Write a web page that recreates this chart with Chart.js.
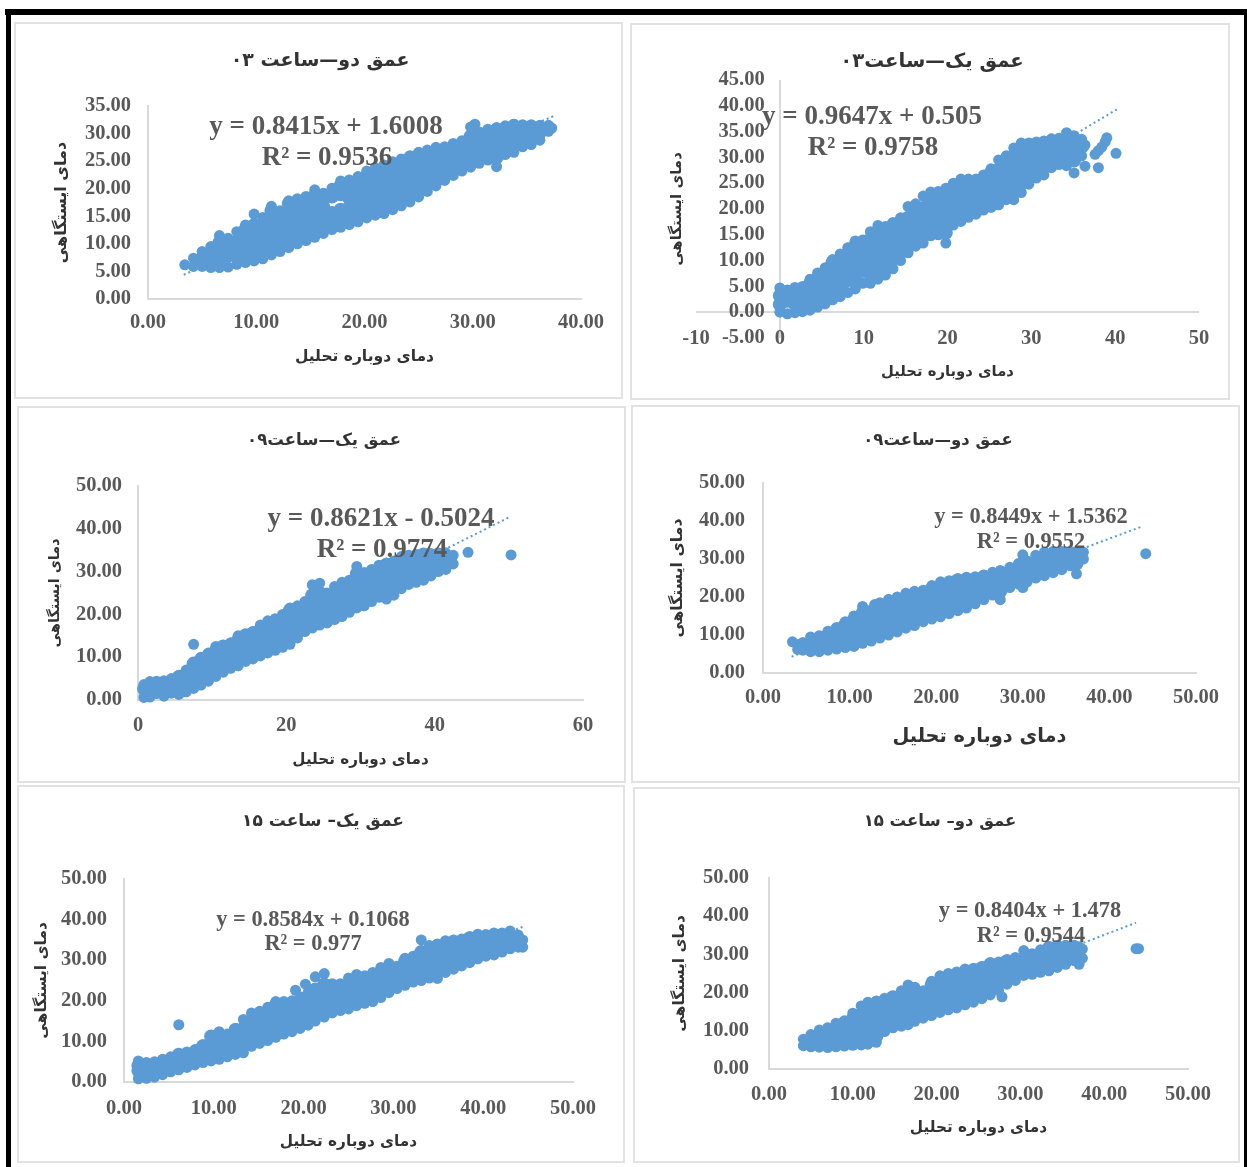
<!DOCTYPE html>
<html>
<head>
    <meta charset="utf-8">
    <title>دمای ایستگاهی و دوباره تحلیل</title>
    <script src="https://cdn.jsdelivr.net/npm/chart.js"></script>
    <style>
        body { margin: 0; background: #fff; }
        canvas { position: absolute; outline: 2px solid #e2e2e2; outline-offset: -1px; }
        .bar { position: absolute; background: #000; }
    </style>
</head>
<body>
    <div class="bar" style="left:5px;top:9px;width:1242px;height:6px"></div>
    <div class="bar" style="left:6px;top:9px;width:5px;height:1158px"></div>
    <div class="bar" style="left:1244px;top:9px;width:3px;height:1158px"></div>

    <canvas id="c1"></canvas>
    <canvas id="c2"></canvas>
    <canvas id="c3"></canvas>
    <canvas id="c4"></canvas>
    <canvas id="c5"></canvas>
    <canvas id="c6"></canvas>

    <script>
        const xName = 'دمای دوباره تحلیل';
        const yName = 'دمای ایستگاهی';

        // every column is [x, [y, y, ...]]
        const depth2Hour03 = [
            [3.4,[6.2]],[4.2,[5.9,7.4]],[5,[5.9,7.2,8.6]],[5.8,[5.7,7,8.3,9.5]],[6.6,[5.7,7.2,8.7,10.2,11.5]],
            [7.4,[5.8,7.9,9.3,11]],[8.2,[6.3,7.6,9,10.4,12.2]],[9,[6.6,8.1,9.6,11.1,12.6,13.4]],
            [9.8,[6.9,8.6,10.2,11.8,13.4,15.4]],[10.6,[7.3,8.8,10.3,11.8,13.3,14.8]],[11.4,[8,9.6,11.2,12.8,14.4,16,16.8]],
            [12.2,[8.6,10.1,11.6,13.1,14.6,16]],[13,[9.3,10.9,12.5,14.1,15.7,17.3,17.8]],[13.8,[10,11.5,13,14.5,16,17.5,18.2]],
            [14.6,[10.6,12.3,13.9,15.5,17.1,18.6]],[15.4,[11.2,12.7,14.2,15.7,17.2,18.7,19.8]],[16.2,[11.9,13.5,15.1,16.7,18.3,19.2]],
            [17,[12.6,14.1,15.6,18.6,20.1]],[17.8,[13,14.6,16.2,19,20.6,21.4]],[18.6,[13.5,15,16.4,18.2,19.8,21.6]],
            [19.4,[14,15.6,17.2,18.8,20.4,22.2]],[20.2,[14.7,16.2,17.7,19.2,20.7,22.2,23.2]],[21,[15.2,16.8,18.4,20,21.6,23.2,23.8]],
            [21.8,[15.5,17,18.5,20,21.5,23,24.3]],[22.6,[16.2,17.8,19.4,21,22.6,24.2,24.9]],[23.4,[16.9,18.4,19.9,21.4,22.9,24.4,25.4]],
            [24.2,[17.6,19.2,20.8,22.4,24,25.6,26]],[25,[18.5,20,21.5,23,24.5,26,26.6]],[25.8,[19.5,21.1,22.7,24.3,25.9,27]],
            [26.6,[20.5,22,23.5,25,26.5,27.5]],[27.4,[21.5,23.1,24.7,26.3,27.6]],[28.2,[22.4,23.9,25.4,26.9,28.2]],
            [29,[23.2,24.8,26.4,28,28.7]],[29.8,[23.9,25.4,26.9,28.4,29.5,31.2]],[30.2,[31.7]],[30.6,[24.6,26.2,27.8,29.4,30.3]],
            [31.4,[25.2,26.7,28.2,29.7,30.8]],[32.2,[24,25.7,27.3,28.9,30.5,31.1]],[33,[26.2,27.7,29.2,30.7,31.4]],
            [33.8,[26.6,28.2,29.8,31.4,31.6]],[34.6,[27.6,29,30.4,31.6]],[35.4,[28,29.6,31.2,31.6]],[36.2,[28.8,30.2,31.5]],
            [37,[30.4,31.5]],[37.3,[31]]
        ];
        const depth1Hour03 = [
            [0,[0,1.5,3.2,4.7]],[0.9,[-0.3,2.2,3.9,4.3]],[1.8,[-0.1,1.6,3.3,4.8]],[2.7,[0.1,2,3.8,5]],[3.6,[0.4,2.1,3.8,5.5,6.4]],
            [4.5,[1,3,4.7,6.4,7.6]],[5.4,[1.6,3.3,5,6.7,8.6]],[6.3,[2.4,4.6,6.3,8,9.7,10.2]],[7.2,[3,4.7,6.4,8.1,9.8,11.3]],
            [8.1,[3.8,6.2,7.9,9.6,11.3,12.5]],[9,[4.5,6.2,7.9,9.6,11.3,13,13.8]],[9.9,[5.6,8,9.7,11.4,13.1,14]],
            [10.8,[5.6,7.3,9,10.7,12.4,14.1,15.6]],[11.7,[6.4,8.2,9.9,11.6,13.3,15,16.8]],[12.6,[7.2,8.9,10.6,12.3,14,15.7,16.6]],
            [13.5,[8.4,10.1,11.8,13.5,15.2,16.9,17.4]],[14.4,[10,11.7,13.4,15.1,16.8,18.3]],[15.3,[11.5,13.2,14.9,16.6,18.3,20.5]],
            [16.2,[12.8,14.5,16.2,17.9,19.6,21]],[17.1,[13.4,15.1,16.8,18.5,20.2,22.5]],[18,[14.8,16.5,18.2,19.9,21.6,23.3]],
            [18.9,[15,16.7,18.4,20.1,21.8,23.4]],[19.8,[13.4,15.4,17.3,19,20.7,22.4,24]],[20.7,[16.9,18.6,20.3,22,23.7,25]],
            [21.6,[17.6,19.3,21,22.7,24.4,25.8]],[22.5,[18.4,20.1,21.8,23.5,25.2,25.8]],[23.4,[19,20.7,22.4,24.1,25.8]],
            [24.3,[19.8,21.5,23.2,24.9,26.6]],[25.2,[20.3,22,23.7,25.4,27.1,27.8]],[26.1,[20.8,22.5,24.2,25.9,27.6,29.5]],
            [27,[21.8,23.5,25.2,26.9,28.6,30.3]],[27.9,[21.8,23.5,25.2,26.9,28.6,30.3,31.8]],[28.8,[23.2,24.9,26.6,28.3,30,31.7,32.8]],
            [29.7,[24.8,26.5,28.2,29.9,31.6,32.8]],[30.6,[26,27.7,29.4,31.1,33]],[31.5,[26.6,28.3,30,31.7,33.2]],
            [32.4,[28,29.7,31.4,33.1,33.6]],[33.3,[28.6,30.3,32,33.7]],[34.2,[28.4,30,31.7,33.4,34.8]],[35.1,[27,29.4,31,32.7,34.2]],
            [36,[30.3,32,33.5]],[36.4,[28.3,32.4]],[37.6,[30.6]],[38,[28,31.3]],[38.4,[32]],[38.8,[33]],[39,[33.8]],[40.1,[30.8]]
        ];
        const depth1Hour09 = [
            [0.8,[0.6,2.6,3.6]],[1.6,[0.7,2.7,4.3]],[2.5,[1.5,3.4,4.4]],[3.5,[0.9,2.8,4.5]],[4.5,[1.6,3.6,5]],[5.5,[1.3,3.3,5.3,5.8]],
            [6.5,[1.9,4,6,7]],[7.5,[2.7,4.7,6.7,8.5,13]],[8.5,[3.5,5.5,7.5,9.5,10]],[9.5,[4.4,6.4,8.4,10.4,11]],
            [10.5,[5.5,7.5,9.5,11.5,12.5]],[11.5,[6.5,8.5,10.5,12.5,12.8]],[12.5,[7.4,9.4,11.4,13.4]],[13.5,[8,10,12,14,15]],
            [14.5,[9,11,13,15,15.5]],[15.5,[9.6,11.6,13.6,15.6,16]],[16.5,[10.3,12.3,14.3,16.3,17.5]],[17.5,[11,13,15,17,18.5]],
            [18.5,[11.6,13.6,15.6,17.6,19]],[19.5,[12.3,14.3,16.3,18.3,20]],[20.5,[13,15,17,19,21,21.5]],[21.5,[14.5,16.5,18.5,20.5,22]],
            [22.5,[16,18,20,22,23]],[23.5,[16.8,18.8,20.8,22.8,24.5,26.9]],[24.5,[17.5,19.5,21.5,23.5,25,27.3]],[25.5,[18,20,22,24,25]],
            [26.5,[18.8,20.8,22.8,24.8,26.5]],[27.5,[19.5,21.5,23.5,25.5,27.5]],[28.5,[20.5,22.5,24.5,26.5,28]],[29.5,[21.5,23.5,25.5,27.5,29.5,31.2]],
            [30.5,[22,24,26,28,29.8]],[31.5,[23,25,27,29,30.5]],[32.5,[24,26,28,30,31.5]],[33.5,[23.6,25.6,27.6,29.6,31.6,32]],
            [34.5,[24.5,26.5,28.5,30.5,32.5]],[35.5,[26,28,30,32,33.5]],[36.5,[27,29,31,33,33.8]],[37.5,[27.5,29.5,31.5,33.5,34]],
            [38.5,[28,30,32,34,34.2]],[39.5,[29,31,33,34.2]],[40.5,[30,32,34,34.3]],[41.5,[30.5,32.5,34.4]],[42.5,[31.8,33.8]],
            [44.5,[34.5]],[50.3,[33.9]]
        ];
        const depth2Hour09 = [
            [3.4,[8.2]],[4,[6.2,7.5]],[4.6,[6,8]],[5.5,[5.6,7.6,9.5]],[6.5,[5.6,6.6,8.6,9.8]],[7.5,[6,8,10,11]],[8.5,[6.3,7.3,9.3,11.3,12]],
            [9.5,[6.7,8.7,10.7,12.7,13.5]],[10.5,[7,8,10,12,14,15]],[11.5,[7.8,9.8,11.8,13.8,15.8,17.5]],[12.5,[8.4,9.4,11.4,13.4,15.4,16.6]],
            [12.9,[18]],[13.5,[9.2,11.2,13.2,15.2,17.2,18.5]],[14.5,[10,12,14,16,18,19.4]],[15.5,[10.8,12.8,14.8,16.8,18.8,20]],
            [16.5,[11.8,13.8,15.8,17.8,19.8,21]],[17.5,[12.5,14.5,16.5,18.5,20.5,21.5]],[18.5,[13.5,15.5,17.5,19.5,21.8]],
            [19.5,[14.2,16.2,18.2,20.2,22.2,23]],[20.5,[14.8,16.8,18.8,20.8,22.8,24]],[21.5,[15.6,17.6,19.6,21.6,23.6,24.3]],
            [22.5,[16.4,18.4,20.4,22.4,24.4,24.8]],[23.5,[17.1,19.1,21.1,23.1,25.2]],[24.5,[18.2,20.2,22.2,24.2,25.3]],
            [25.5,[19.3,21.3,23.3,25.3,25.8]],[26.5,[20.5,22.5,24.5,26.5]],[27.4,[19.3,21.5,23.5,25.5,27]],[28.5,[22.5,24.5,26.5,27.8]],
            [29.5,[23.4,25.4,27.4,28.8]],[30,[22.5,31.1]],[30.5,[24,26,28,29.5]],[31.5,[25,27,29,31]],[32.5,[25.6,27.6,29.6,31.8]],
            [33.5,[26.4,28.4,30.4,32]],[34.5,[27.2,29.2,31.2,32]],[35.5,[28.2,30.2,32]],[36.2,[26.1,28.8,30.8,32]],[37,[30,31.8]],[44.2,[31.4]]
        ];
        const depth1Hour15 = [
            [1.6,[0.8,2.8,4,5.2]],[2.5,[0.9,2.9,4.8]],[3.4,[1.2,3.2,5]],[4.3,[1.8,3.8,5.6]],[5.2,[2.5,4.5,6.2]],[6.1,[3,5,6.7,14.1]],
            [7,[3.6,5.6,7.4]],[7.9,[4.2,6.2,8]],[8.8,[4.8,6.8,8.8,9.2]],[9.7,[5.2,7.2,9.2,11.2,11.5]],[10.6,[5.6,7.6,9.6,11.6,12.4]],
            [11.5,[6.2,8.2,10.2,11.8]],[12.4,[6.8,8.8,10.8,12.8,13.2]],[13.3,[7.2,9.2,11.2,13.2,15.4]],[14.2,[8.8,10.8,12.8,14.8,17]],
            [15.1,[9.5,11.5,13.5,15.5,17.4]],[16,[10.2,12.2,14.2,16.2,18.4]],[16.9,[11,13,15,17,19,19.8]],[17.8,[11.8,13.8,15.8,17.8,19.8]],
            [18.7,[12.4,14.4,16.4,18.4,20]],[19.1,[22.6]],[19.6,[13.2,15.2,17.2,19.2,21]],[20.2,[24.1]],[20.5,[14,16,18,20,22]],
            [21.3,[15,17,19,21,22.8,25.9]],[22.3,[16,18,20,22,24,26.7]],[23.2,[17,19,21,23,24.2]],[24.1,[17.6,19.6,21.6,23.6,24.2]],
            [25,[18,20,22,24,25.6]],[25.9,[18.8,20.8,22.8,24.8,26.5]],[26.8,[19.4,21.4,23.4,25.4,26.2]],[27.7,[19.8,21.8,23.8,25.8,27]],
            [28.6,[20.8,22.8,24.8,26.8,28.2]],[29.5,[22,24,26,28,29.2]],[30.4,[23,25,27,28.5]],[31.3,[23.8,25.8,27.8,29.8,30.5]],
            [32.2,[24.6,26.6,28.6,31]],[33.1,[25,27,29,31,32,35]],[34,[25.6,27.6,29.6,31.6,33.6]],[34.9,[25.5,27.5,29.5,31.5,33.5,34]],
            [35.8,[27,29,31,33,34.8]],[36.7,[27.8,29.8,31.8,33.8,35]],[37.6,[28.6,30.6,32.6,34.6,35.2]],[38.5,[29.4,31.4,33.4,35.4,35.8]],
            [39.4,[30.3,32.3,34.3,36.4]],[40.3,[31,33,35,36.3]],[41.2,[31.3,33.3,35.3,36.7]],[42.1,[32,34,36,36.7]],[43,[32.8,34.8,37.2]],
            [43.9,[33.2,35.2,36.2]],[44.4,[33.2,35]]
        ];
        const depth2Hour15 = [
            [4.1,[6.1,7.8]],[5,[5.8,7.8,9]],[6,[5.7,6.7,8.7,10.2]],[7,[5.6,7.6,9.6,10.8]],[8,[5.8,6.8,8.8,10.8,12]],[9,[6,8,10,12,12.6]],
            [10,[6.2,7.2,9.2,11.2,13.2,14.6]],[11,[6.3,8.3,10.3,12.3,14.3,16.5]],[11.8,[6.5,7.5,9.5,11.5,13.5,15.5,17.5]],
            [12.8,[7,8.5,10.5,12.5,14.5,16.5,17.8]],[13.8,[9.8,11.8,13.8,15.8,17.8,18.5]],[14.8,[10.8,12.8,14.8,16.8,18.8,19]],
            [15.8,[11.2,13.2,15.2,17.2,19.2,20.5]],[16.6,[11.6,13.6,15.6,17.6,19.6,22]],[17.4,[12.5,14.5,16.5,18.5,20.5,21.4]],
            [18.4,[13.3,15.3,17.3,19.3,20.5]],[19.4,[14,16,18,20,22,23]],[20.4,[14.8,16.8,18.8,20.8,22.8,24.4]],[21.4,[15.5,17.5,19.5,21.5,23.5,25]],
            [22.4,[16,18,20,22,24,25.4]],[23.4,[16.8,18.8,20.8,22.8,24.8,26.2]],[24.4,[17.5,19.5,21.5,23.5,25.5,26.4]],[25.4,[18.4,20.4,22.4,24.4,26.4,26.8]],
            [26.4,[19.4,21.4,23.4,25.4,27.4,27.8]],[27.4,[20.6,22.6,24.6,26.6,28]],[27.8,[18.9]],[28.4,[22.2,24.2,26.2,28.2,28.6]],[29.4,[23.2,25.2,27.2,29.2]],
            [30.4,[24.5,26.5,28.5,31]],[31.4,[24.8,26.8,28.8,30.2]],[32.4,[25.3,27.3,29.3,31.2]],[33.4,[25.7,27.7,29.7,31.7,32]],
            [34.4,[26.6,28.6,30.6,32.4]],[35.4,[27.4,29.4,31.4,32.4]],[36.4,[28.4,30.4,32.4]],[37,[27.4,32]],[37.4,[29,31.4]],[43.8,[31.5]],[44.1,[31.5]]
        ];

        const trend1X = [3.3, 37.5], trend1Y = [4.4, 33.2];
        const trend2X = [0, 40.3], trend2Y = [0.5, 39.4];
        const trend3X = [0.8, 50.3], trend3Y = [0.2, 42.9];
        const trend4X = [3.3, 43.7], trend4Y = [4.3, 38.5];
        const trend5X = [1.6, 44.4], trend5Y = [1.5, 38.2];
        const trend6X = [4.1, 43.8], trend6Y = [4.9, 38.3];

        const blue = '#5B9BD5';
        const grey = '#595959';
        const dark = '#333333';
        const serif = "'Liberation Serif', serif";
        const arabic = "'DejaVu Sans', sans-serif";

        // draws the trendline equation over the points
        const equationPlugin = {
            id: 'equation',
            afterDatasetsDraw(chart, args, opts) {
                const ctx = chart.ctx;
                ctx.save();
                ctx.fillStyle = grey;
                ctx.textAlign = 'center';
                ctx.textBaseline = 'middle';
                ctx.font = 'bold ' + opts.size + 'px ' + serif;
                opts.lines.forEach(l => ctx.fillText(l[0], l[1] - opts.left, l[2] - opts.top + 2));
                ctx.restore();
            }
        };

        function drawPanel(p) {
            const canvas = document.getElementById(p.id);
            const w = p.box[2], h = p.box[3];
            canvas.width = w;
            canvas.height = h;
            canvas.style.left = p.box[0] + 'px';
            canvas.style.top = p.box[1] + 'px';

            // left padding only nudges the title, the right side is held by an empty axis
            const rightGap = p.box[0] + w - p.plot[1];
            const padLeft = 2 * (p.titleX - (p.box[0] + w / 2));
            const yWidth = p.plot[0] - p.box[0] - padLeft;
            const xHeight = p.box[1] + h - p.plot[3];
            const titleLine = p.titleSize * 1.2;
            const titleTop = p.titleY - p.box[1] - titleLine / 2;
            const titleBottom = p.plot[2] - p.box[1] - titleLine - titleTop;

            const xTitle = {
                display: true, text: xName, color: dark,
                font: { family: arabic, weight: 'bold', size: p.xNameSize },
                padding: { top: 0, bottom: p.box[1] + h - p.xNameY - p.xNameSize * 0.6 }
            };
            const yTitle = {
                display: true, text: yName, color: dark,
                font: { family: arabic, weight: 'bold', size: p.yNameSize },
                padding: { top: p.yNameX - p.box[0] - padLeft - p.yNameSize * 0.6, bottom: 0 }
            };
            const tickFont = { family: serif, weight: 'bold', size: 20.5 };
            const axisLine = { display: true, color: '#d9d9d9', width: 2 };
            const noGrid = { display: false, drawTicks: false };
            const emptyAxis = {
                type: 'linear', min: 0, max: 1,
                grid: noGrid, border: { display: false }, ticks: { display: false }
            };
            const scales = {
                x: {
                    type: 'linear', min: p.xTicks[0], max: p.xTicks[1],
                    grid: noGrid, border: axisLine,
                    afterFit: a => { a.height = xHeight; },
                    ticks: {
                        stepSize: p.xTicks[2], padding: p.xPad, color: grey, font: tickFont, maxRotation: 0, autoSkip: false,
                        callback: v => v.toFixed(p.xDigits)
                    },
                    title: xTitle
                },
                y: {
                    type: 'linear', min: p.yTicks[0], max: p.yTicks[1],
                    grid: noGrid, border: axisLine,
                    afterFit: a => { a.width = yWidth; },
                    ticks: {
                        stepSize: p.yTicks[2], padding: p.yPad, color: grey, font: tickFont, autoSkip: false,
                        callback: v => v.toFixed(2)
                    },
                    title: yTitle
                },
                rightGap: { ...emptyAxis, axis: 'y', position: 'right', afterFit: a => { a.width = rightGap; } }
            };

            // the 03 panel of depth one has its axes crossing inside the plot
            if (p.crossing) {
                const zeroLine = c => c.tick.value === 0 ? '#d9d9d9' : 'rgba(0,0,0,0)';
                scales.x.position = { y: 0 };
                scales.x.title = { display: false };
                scales.x.border = { display: false };
                scales.x.grid = { display: true, drawTicks: false, color: zeroLine, lineWidth: 2 };
                scales.x.afterFit = a => { a.height = 0; };
                scales.y.position = { x: -1.8 };
                scales.y.title = { display: false };
                scales.y.border = { display: false };
                scales.y.grid = { display: true, drawTicks: false, color: zeroLine, lineWidth: 2 };
                scales.y.afterFit = a => { a.width = 0; };
                scales.xName = { ...emptyAxis, axis: 'x', position: 'bottom', afterFit: a => { a.height = xHeight; }, title: xTitle };
                scales.yName = { ...emptyAxis, axis: 'y', position: 'left', afterFit: a => { a.width = yWidth; }, title: yTitle };
            }

            // points inside a column sit in the solid mass, the end ones stay close to the marker size
            const radii = p.columns.flatMap(c => c[1].map((y, i) => (i === 0 || i === c[1].length - 1) ? 5.5 : 7));

            return new Chart(canvas, {
                type: 'scatter',
                data: {
                    datasets: [{
                        label: 'نقاط',
                        data: p.columns.flatMap(c => c[1].map(y => ({ x: c[0], y: y }))),
                        backgroundColor: blue,
                        borderWidth: 0,
                        pointRadius: radii,
                        clip: false
                    }, {
                        label: 'روند',
                        data: p.trendX.map((x, i) => ({ x: x, y: p.trendY[i] })),
                        showLine: true,
                        borderColor: blue,
                        borderWidth: 2,
                        borderDash: [2, 3],
                        pointRadius: 0,
                        clip: false
                    }]
                },
                options: {
                    responsive: false,
                    animation: false,
                    layout: {
                        autoPadding: false,
                        padding: { left: padLeft, right: 0, top: 0, bottom: 0 }
                    },
                    scales: scales,
                    plugins: {
                        legend: { display: false },
                        tooltip: { enabled: false },
                        title: {
                            display: true, text: p.title, color: dark,
                            font: { family: arabic, weight: 'bold', size: p.titleSize },
                            padding: { top: titleTop, bottom: titleBottom }
                        },
                        equation: { lines: p.equation, size: p.eqSize, left: p.box[0], top: p.box[1] }
                    }
                },
                plugins: [equationPlugin]
            });
        }

        const panels = [
            { id: 'c1', box: [15, 23, 607, 375], plot: [148, 581, 106, 299], title: 'عمق دو—ساعت ۰۳', titleX: 320, titleY: 61, titleSize: 19,
              xTicks: [0, 40, 10], yTicks: [0, 35, 5], xDigits: 2, xPad: 11, yPad: 17, xNameY: 357, yNameX: 62, xNameSize: 15.5, yNameSize: 16,
              columns: depth2Hour03, trendX: trend1X, trendY: trend1Y, eqSize: 27,
              equation: [['y = 0.8415x + 1.6008', 326, 125], ['R² = 0.9536', 327, 156]] },
            { id: 'c2', box: [631, 24, 598, 375], plot: [696, 1199, 80, 338], title: 'عمق یک—ساعت۰۳', titleX: 932, titleY: 62, titleSize: 19.7, crossing: true,
              xTicks: [-10, 50, 10], yTicks: [-5, 45, 5], xDigits: 0, xPad: 14, yPad: 0, xNameY: 372, yNameX: 677, xNameSize: 14.8, yNameSize: 15,
              columns: depth1Hour03, trendX: trend2X, trendY: trend2Y, eqSize: 27,
              equation: [['y = 0.9647x + 0.505', 872, 115], ['R² = 0.9758', 873, 146]] },
            { id: 'c3', box: [18, 407, 607, 375], plot: [138, 583, 486, 700], title: 'عمق یک—ساعت۰۹', titleX: 324, titleY: 441, titleSize: 16.5,
              xTicks: [0, 60, 20], yTicks: [0, 50, 10], xDigits: 0, xPad: 13, yPad: 16, xNameY: 760, yNameX: 55, xNameSize: 15.2, yNameSize: 14.4,
              columns: depth1Hour09, trendX: trend3X, trendY: trend3Y, eqSize: 27,
              equation: [['y = 0.8621x - 0.5024', 381, 517], ['R² = 0.9774', 382, 548]] },
            { id: 'c4', box: [632, 406, 607, 376], plot: [763, 1196, 483, 673], title: 'عمق دو—ساعت۰۹', titleX: 938, titleY: 441, titleSize: 16.5,
              xTicks: [0, 50, 10], yTicks: [0, 50, 10], xDigits: 2, xPad: 12, yPad: 18, xNameY: 737, yNameX: 678, xNameSize: 19.4, yNameSize: 15.7,
              columns: depth2Hour09, trendX: trend4X, trendY: trend4Y, eqSize: 22.4,
              equation: [['y = 0.8449x + 1.5362', 1031, 515], ['R² = 0.9552', 1031, 540]] },
            { id: 'c5', box: [18, 786, 606, 376], plot: [124, 573, 879, 1082], title: 'عمق یک– ساعت ۱۵', titleX: 323, titleY: 822, titleSize: 17,
              xTicks: [0, 50, 10], yTicks: [0, 50, 10], xDigits: 2, xPad: 14, yPad: 17, xNameY: 1142, yNameX: 42, xNameSize: 15.3, yNameSize: 15.4,
              columns: depth1Hour15, trendX: trend5X, trendY: trend5Y, eqSize: 22.4,
              equation: [['y = 0.8584x + 0.1068', 313, 918], ['R² = 0.977', 313, 942]] },
            { id: 'c6', box: [634, 788, 605, 374], plot: [769, 1188, 878, 1069], title: 'عمق دو– ساعت ۱۵', titleX: 940, titleY: 822, titleSize: 16.5,
              xTicks: [0, 50, 10], yTicks: [0, 50, 10], xDigits: 2, xPad: 13, yPad: 20, xNameY: 1128, yNameX: 680, xNameSize: 15.3, yNameSize: 15.4,
              columns: depth2Hour15, trendX: trend6X, trendY: trend6Y, eqSize: 22.4,
              equation: [['y = 0.8404x + 1.478', 1030, 909], ['R² = 0.9544', 1031, 934]] }
        ];

        panels.forEach(drawPanel);
    </script>
</body>
</html>
